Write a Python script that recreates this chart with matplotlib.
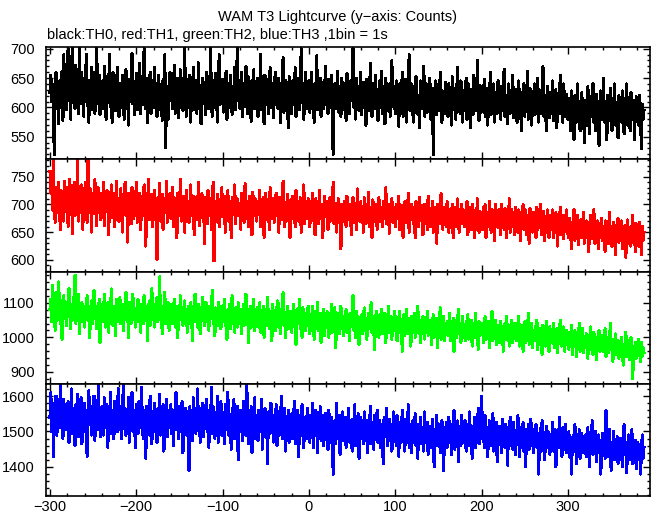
import numpy as np
import matplotlib
matplotlib.use('Agg')
import matplotlib.pyplot as plt
from matplotlib.ticker import MultipleLocator

plt.rcParams['font.family'] = ['Liberation Sans', 'DejaVu Sans']

# time axis, 1bin = 1s
t_start = -300

th0 = [
625, 655, 610, 640, 588, 520, 633, 660, 598, 615, 572, 645, 630, 600, 662, 578, 690, 618, 642, 596,
655, 700, 612, 634, 580, 668, 705, 622, 640, 598, 672, 615, 648, 590, 700, 628, 660, 606, 637, 585,
650, 612, 690, 604, 628, 575, 646, 618, 668, 596, 635, 660, 590, 624, 702, 640, 606, 655, 588, 630,
612, 645, 598, 670, 625, 580, 652, 608, 635, 690, 602, 628, 575, 660, 616, 642, 595, 630, 668, 610,
585, 640, 622, 600, 655, 612, 580, 638, 664, 598, 625, 570, 648, 615, 632, 692, 606, 640, 588, 620,
658, 596, 630, 612, 675, 590, 644, 620, 605, 700, 628, 598, 650, 574, 636, 612, 660, 590, 625, 645,
600, 668, 618, 640, 585, 622, 655, 596, 632, 610, 578, 648, 626, 690, 532, 635, 615, 580, 642, 660,
612, 645, 598, 628, 672, 590, 636, 615, 650, 582, 622, 664, 604, 640, 595, 630, 700, 612, 585, 648,
620, 600, 655, 575, 634, 612, 668, 596, 628, 645, 590, 618, 676, 604, 638, 572, 626, 650, 608, 632,
588, 660, 615, 640, 598, 622, 702, 610, 585, 646, 628, 600, 658, 618, 575, 636, 690, 605, 630, 612,
648, 592, 626, 610, 662, 580, 640, 618, 600, 655, 622, 588, 636, 612, 668, 596, 630, 703, 614, 645,
598, 625, 660, 585, 640, 615, 602, 670, 628, 590, 652, 610, 632, 576, 645, 620, 664, 598, 630, 608,
650, 585, 628, 612, 690, 596, 638, 620, 572, 655, 605, 630, 648, 590, 622, 668, 600, 640, 615, 582,
636, 660, 605, 625, 598, 650, 618, 574, 640, 610, 685, 592, 628, 646, 600, 620, 565, 652, 612, 635,
590, 645, 622, 605, 668, 585, 630, 612, 650, 596, 626, 700, 608, 640, 580, 618, 660, 598, 632, 614,
645, 592, 625, 660, 600, 618, 575, 640, 612, 688, 596, 630, 605, 650, 585, 622, 642, 598, 615, 670,
608, 632, 590, 648, 614, 600, 655, 580, 520, 626, 640, 598, 618, 662, 592, 635, 610, 585, 650, 620,
596, 640, 615, 578, 658, 605, 628, 590, 645, 612, 632, 700, 600, 622, 580, 650, 610, 636, 595, 625,
660, 588, 615, 642, 600, 625, 570, 648, 608, 632, 594, 675, 612, 585, 640, 620, 598, 655, 605, 630,
578, 620, 645, 600, 662, 590, 615, 635, 572, 650, 608, 626, 595, 640, 585, 618, 680, 602, 630, 610,
590, 645, 605, 625, 568, 640, 612, 598, 660, 585, 622, 600, 648, 575, 630, 610, 690, 595, 618, 640,
600, 575, 636, 612, 652, 590, 620, 605, 566, 645, 598, 628, 610, 670, 585, 615, 640, 592, 625, 604,
650, 580, 612, 632, 520, 620, 600, 645, 588, 615, 635, 595, 660, 608, 575, 628, 612, 590, 642, 600,
618, 585, 640, 605, 625, 570, 652, 610, 596, 632, 580, 615, 668, 600, 622, 590, 645, 608, 575, 628,
612, 595, 650, 580, 620, 640, 600, 565, 630, 612, 588, 655, 605, 625, 595, 680, 610, 578, 638, 615,
592, 628, 605, 648, 585, 615, 632, 570, 610, 598, 660, 588, 620, 605, 640, 575, 625, 612, 590, 645,
600, 618, 580, 636, 610, 595, 665, 585, 620, 604, 572, 640, 612, 590, 628, 600, 655, 582, 615, 598,
630, 575, 608, 645, 590, 612, 560, 625, 600, 640, 585, 618, 598, 662, 580, 610, 632, 595, 570, 622,
605, 640, 588, 615, 598, 650, 575, 612, 628, 590, 606, 670, 585, 620, 600, 560, 636, 598, 615, 582,
625, 600, 645, 578, 612, 595, 630, 565, 608, 620, 590, 655, 598, 612, 575, 640, 605, 585, 622, 600,
580, 615, 595, 560, 628, 590, 605, 545, 620, 598, 575, 640, 585, 610, 560, 600, 625, 580, 595, 540,
612, 590, 570, 635, 600, 555, 618, 585, 605, 640, 575, 598, 560, 622, 590, 610, 535, 600, 628, 580,
596, 650, 575, 610, 588, 545, 620, 600, 578, 632, 590, 560, 615, 595, 640, 570, 605, 585, 548, 620,
592, 610, 575, 628, 600, 555, 615, 588, 640, 570, 602, 590, 560, 625, 598, 580, 612, 545, 595, 618,
585, 600, 570, 620, 590, 530, 605, 580, 595]

th1 = [
760, 720, 745, 690, 780, 705, 668, 730, 712, 685, 740, 700, 655, 725, 695, 715, 670, 742, 705, 688,
730, 660, 712, 745, 690, 720, 648, 705, 740, 680, 715, 696, 782, 670, 725, 700, 685, 735, 655, 710,
692, 740, 705, 668, 782, 715, 690, 728, 650, 705, 720, 684, 745, 698, 662, 712, 730, 690, 705, 672,
720, 695, 740, 662, 708, 688, 725, 700, 645, 715, 690, 735, 676, 705, 720, 660, 698, 742, 685, 710,
670, 705, 728, 690, 650, 715, 695, 740, 680, 702, 632, 720, 688, 705, 665, 730, 698, 675, 712, 690,
740, 668, 705, 690, 720, 655, 698, 715, 680, 735, 700, 625, 710, 688, 745, 672, 702, 690, 718, 660,
695, 725, 680, 705, 600, 712, 690, 738, 670, 700, 718, 655, 692, 710, 685, 742, 668, 705, 690, 720,
675, 700, 730, 660, 712, 688, 705, 640, 720, 695, 680, 745, 670, 702, 690, 715, 650, 698, 725, 685,
705, 668, 690, 735, 680, 700, 715, 645, 695, 712, 672, 690, 740, 662, 705, 688, 720, 676, 700, 630,
712, 690, 665, 725, 700, 680, 710, 655, 695, 740, 598, 688, 705, 670, 718, 692, 660, 708, 685, 730,
678, 700, 715, 650, 695, 688, 725, 670, 705, 690, 640, 712, 682, 700, 735, 665, 695, 710, 680, 702,
690, 655, 720, 685, 700, 668, 738, 692, 675, 705, 660, 715, 688, 700, 645, 722, 680, 698, 710, 670,
705, 682, 690, 725, 660, 700, 678, 712, 640, 695, 720, 672, 688, 705, 655, 730, 690, 675, 710, 685,
668, 700, 720, 680, 695, 650, 712, 688, 705, 672, 742, 690, 660, 700, 685, 718, 670, 695, 640, 708,
688, 715, 675, 700, 660, 725, 690, 705, 670, 685, 712, 650, 698, 680, 735, 665, 700, 690, 675, 710,
685, 660, 705, 690, 720, 670, 695, 645, 710, 680, 700, 665, 725, 688, 675, 700, 640, 692, 715, 678,
690, 705, 655, 685, 712, 670, 698, 680, 740, 665, 690, 702, 650, 688, 710, 675, 695, 620, 700, 684,
670, 705, 688, 660, 715, 680, 695, 672, 700, 645, 690, 712, 668, 685, 700, 655, 728, 680, 692, 670,
705, 675, 690, 650, 712, 688, 665, 700, 680, 722, 660, 695, 678, 640, 708, 685, 670, 700, 690, 655,
688, 712, 670, 695, 680, 660, 705, 675, 690, 730, 665, 685, 700, 648, 690, 676, 710, 668, 695, 680,
660, 700, 682, 675, 715, 655, 690, 670, 698, 640, 685, 705, 668, 690, 675, 720, 650, 688, 672, 700,
680, 665, 695, 640, 705, 675, 690, 660, 712, 680, 670, 698, 645, 685, 700, 668, 690, 655, 715, 675,
690, 660, 680, 705, 650, 688, 670, 695, 630, 700, 675, 685, 665, 720, 680, 655, 695, 670, 688, 660,
705, 675, 650, 690, 668, 680, 700, 640, 685, 672, 695, 660, 710, 678, 650, 688, 670, 700, 665, 682,
660, 690, 675, 705, 645, 680, 668, 695, 655, 700, 672, 685, 640, 690, 665, 710, 675, 650, 688, 670,
680, 655, 695, 665, 700, 640, 685, 672, 660, 705, 675, 650, 690, 668, 680, 635, 700, 665, 685, 658,
690, 670, 645, 700, 662, 680, 655, 692, 670, 640, 685, 665, 710, 650, 678, 690, 660, 675, 645, 695,
665, 680, 650, 690, 670, 635, 685, 660, 700, 655, 675, 690, 645, 668, 680, 630, 692, 662, 675, 650,
685, 660, 670, 640, 695, 655, 680, 665, 700, 645, 672, 660, 688, 635, 675, 650, 690, 662, 640, 680,
655, 670, 690, 640, 668, 650, 685, 660, 625, 675, 655, 695, 645, 665, 680, 638, 670, 655, 690, 648,
660, 640, 675, 652, 620, 668, 645, 690, 635, 660, 650, 680, 628, 665, 645, 672, 640, 655, 685, 630,
650, 670, 640, 662, 615, 655, 680, 638, 660, 645, 690, 630, 658, 642, 670, 620, 652, 665, 640, 675,
635, 660, 648, 615, 670, 642, 655, 630, 685, 640, 660, 625, 652, 668, 638, 610, 662, 645, 675, 632,
655, 640, 670, 620, 650, 635, 662, 605, 645, 672, 638, 655, 625, 660, 642, 680, 630, 650, 615, 665,
640, 655, 625, 668, 645, 610, 660, 635, 650]

th2 = [
1080, 1110, 1045, 1150, 1060, 1095, 1020, 1130, 1075, 1050, 1160, 1085, 1040, 1105, 995, 1070, 1120, 1055, 1090, 1035,
1100, 1060, 1140, 1075, 1025, 1095, 1050, 1115, 1070, 1180, 1040, 1085, 1060, 1125, 1010, 1080, 1055, 1100, 1045, 1070,
1030, 1090, 1065, 1120, 1050, 1085, 1000, 1075, 1105, 1040, 1070, 1135, 1055, 1090, 1025, 1080, 1060, 1110, 985, 1075,
1095, 1045, 1070, 1125, 1030, 1080, 1060, 1100, 1015, 1085, 1050, 1140, 1065, 1035, 1090, 1075, 1005, 1110, 1060, 1045,
1080, 1115, 1040, 1070, 1095, 1020, 1085, 1060, 1130, 1050, 1075, 1000, 1100, 1065, 1040, 1090, 1125, 1055, 1070, 1030,
1085, 1060, 1110, 1045, 1075, 1015, 1095, 1065, 1040, 1120, 1070, 1050, 1090, 990, 1080, 1105, 1035, 1065, 1140, 1055,
1070, 1030, 1095, 1060, 1115, 1045, 1080, 1175, 1050, 1090, 1010, 1075, 1060, 1130, 1040, 1085, 1065, 1100, 1020, 1070,
1055, 1095, 1040, 1080, 1110, 1030, 1065, 1090, 1000, 1075, 1050, 1120, 1060, 1085, 1035, 1070, 1105, 1045, 1080, 1015,
1090, 1060, 1040, 1100, 1070, 990, 1080, 1055, 1125, 1045, 1075, 1030, 1095, 1060, 1010, 1085, 1050, 1115, 1065, 1035,
1075, 1100, 1045, 1065, 1020, 1090, 1055, 1080, 1135, 1040, 1070, 1005, 1085, 1060, 1035, 1100, 1050, 1075, 1025, 1090,
1045, 1070, 1110, 1035, 1060, 995, 1080, 1050, 1095, 1025, 1065, 1120, 1040, 1075, 1015, 1085, 1055, 1030, 1100, 1060,
1040, 1080, 1010, 1065, 1095, 1035, 1055, 1125, 1045, 1070, 985, 1060, 1090, 1030, 1075, 1050, 1110, 1020, 1065, 1045,
1085, 1030, 1060, 1100, 1015, 1070, 1045, 1090, 1000, 1055, 1080, 1035, 1115, 1050, 1025, 1075, 1060, 990, 1095, 1040,
1065, 1020, 1085, 1050, 1105, 1030, 1060, 1010, 1080, 1045, 1130, 1035, 1070, 1000, 1055, 1090, 1025, 1065, 1040, 1075,
1015, 1060, 1095, 1035, 1050, 980, 1080, 1040, 1065, 1110, 1025, 1055, 1000, 1085, 1045, 1070, 1020, 1060, 1035, 1090,
1040, 1010, 1065, 1030, 1090, 1050, 995, 1075, 1025, 1060, 1100, 1020, 1045, 1070, 985, 1055, 1035, 1080, 1005, 1060,
1030, 1075, 1045, 1000, 1065, 1040, 1095, 1015, 1050, 1025, 1085, 970, 1055, 1035, 1070, 1010, 1045, 1090, 1025, 1060,
1005, 1050, 1030, 1080, 1015, 1065, 1040, 990, 1070, 1035, 1055, 1120, 1020, 1045, 1000, 1075, 1030, 1060, 980, 1050,
1035, 1065, 1010, 1045, 1085, 1020, 1055, 995, 1040, 1070, 1025, 1050, 1100, 1015, 1060, 1030, 965, 1045, 1075, 1020,
1050, 1000, 1065, 1035, 1080, 1010, 1045, 1025, 1070, 985, 1055, 1030, 1090, 1015, 1040, 1060, 995, 1050, 1020, 1075,
1030, 1060, 990, 1045, 1015, 1075, 1025, 1050, 960, 1040, 1065, 1005, 1035, 1080, 1010, 1055, 1020, 1045, 975, 1060,
1020, 1040, 1070, 1000, 1035, 1015, 1090, 1025, 1050, 985, 1045, 1010, 1060, 1030, 995, 1055, 1020, 1075, 1005, 1040,
1015, 1050, 980, 1035, 1065, 1000, 1030, 1010, 1055, 970, 1040, 1025, 1085, 995, 1045, 1015, 1060, 990, 1035, 1020,
1045, 1005, 1030, 1070, 990, 1040, 1015, 1055, 960, 1025, 1050, 1000, 1035, 1080, 1010, 1040, 985, 1030, 1060, 1000,
1025, 990, 1045, 1015, 1065, 995, 1030, 1010, 1050, 975, 1020, 1040, 1000, 1070, 1015, 1035, 965, 1045, 1005, 1030,
1010, 1040, 985, 1025, 1060, 995, 1020, 1000, 1045, 970, 1030, 1010, 1075, 990, 1025, 1005, 1050, 980, 1035, 1000,
1020, 985, 1045, 1005, 1030, 960, 1015, 1040, 995, 1060, 1000, 1025, 975, 1035, 1010, 1050, 985, 1020, 1000, 1040,
990, 1025, 1005, 1060, 975, 1015, 995, 1035, 960, 1020, 1045, 985, 1010, 1000, 1070, 980, 1025, 995, 1040, 970,
1010, 990, 1030, 1000, 1050, 965, 1015, 985, 1025, 1005, 950, 1035, 995, 1020, 975, 1045, 1000, 1015, 960, 1030,
985, 1010, 995, 1040, 970, 1005, 990, 1025, 955, 1015, 1000, 1050, 975, 1010, 985, 1030, 960, 1000, 1020, 980,
995, 965, 1015, 980, 1035, 950, 1000, 975, 1020, 990, 945, 1010, 985, 1040, 960, 1000, 975, 1025, 955, 990,
970, 1010, 985, 940, 1005, 965, 1030, 975, 995, 950, 1015, 980, 1000, 935, 990, 965, 1020, 960, 985, 1005,
960, 990, 975, 1025, 945, 980, 1000, 955, 970, 1040, 965, 985, 930, 995, 960, 1010, 950, 975, 990, 940,
985, 955, 1000, 965, 920, 980, 960, 1015, 945, 975, 990, 935, 965, 1000, 950, 880, 970, 955, 985, 940,
975, 950, 995, 960, 930, 985, 945, 970, 955]

th3 = [
1540, 1610, 1500, 1580, 1430, 1555, 1525, 1600, 1490, 1570, 1545, 1510, 1635, 1520, 1565, 1480, 1590, 1535, 1505, 1560,
1525, 1585, 1470, 1550, 1515, 1620, 1495, 1565, 1540, 1460, 1575, 1520, 1605, 1485, 1550, 1530, 1595, 1465, 1545, 1510,
1580, 1500, 1560, 1430, 1540, 1615, 1520, 1570, 1490, 1550, 1525, 1600, 1475, 1560, 1535, 1505, 1630, 1515, 1545, 1485,
1570, 1530, 1490, 1595, 1545, 1510, 1575, 1455, 1550, 1520, 1610, 1495, 1560, 1535, 1480, 1585, 1525, 1555, 1500, 1620,
1540, 1505, 1570, 1480, 1550, 1635, 1515, 1565, 1490, 1545, 1525, 1595, 1470, 1555, 1530, 1610, 1500, 1560, 1520, 1455,
1575, 1535, 1495, 1585, 1545, 1510, 1625, 1525, 1480, 1560, 1540, 1425, 1570, 1515, 1550, 1490, 1600, 1530, 1465, 1555,
1520, 1580, 1500, 1545, 1470, 1565, 1530, 1605, 1490, 1550, 1515, 1575, 1445, 1540, 1520, 1590, 1485, 1560, 1510, 1535,
1575, 1495, 1540, 1460, 1560, 1525, 1610, 1505, 1550, 1480, 1570, 1530, 1500, 1585, 1440, 1545, 1520, 1565, 1490, 1555,
1530, 1390, 1570, 1510, 1545, 1475, 1595, 1520, 1555, 1495, 1540, 1620, 1505, 1565, 1470, 1535, 1515, 1580, 1485, 1550,
1525, 1590, 1500, 1560, 1455, 1540, 1515, 1625, 1495, 1570, 1530, 1480, 1550, 1510, 1600, 1470, 1545, 1520, 1585, 1490,
1555, 1520, 1465, 1575, 1535, 1505, 1610, 1490, 1545, 1515, 1450, 1565, 1525, 1590, 1480, 1540, 1510, 1570, 1420, 1535,
1500, 1560, 1530, 1475, 1585, 1515, 1545, 1490, 1630, 1520, 1465, 1555, 1505, 1570, 1440, 1535, 1510, 1595, 1480, 1545,
1515, 1475, 1560, 1525, 1500, 1590, 1450, 1540, 1510, 1565, 1485, 1530, 1410, 1555, 1520, 1495, 1580, 1505, 1545, 1470,
1535, 1500, 1575, 1460, 1525, 1555, 1490, 1515, 1600, 1480, 1540, 1505, 1565, 1445, 1520, 1495, 1560, 1470, 1530, 1510,
1550, 1480, 1520, 1585, 1465, 1535, 1500, 1560, 1430, 1515, 1545, 1490, 1575, 1505, 1455, 1540, 1520, 1480, 1565, 1500,
1515, 1470, 1545, 1500, 1580, 1455, 1525, 1490, 1560, 1510, 1440, 1535, 1495, 1570, 1475, 1520, 1545, 1460, 1505, 1550,
1485, 1525, 1450, 1560, 1500, 1470, 1540, 1515, 1380, 1495, 1530, 1465, 1580, 1505, 1480, 1545, 1435, 1520, 1490, 1555,
1475, 1510, 1540, 1455, 1525, 1495, 1565, 1470, 1515, 1500, 1445, 1535, 1490, 1575, 1460, 1520, 1505, 1550, 1425, 1510,
1540, 1480, 1520, 1465, 1555, 1500, 1475, 1530, 1440, 1515, 1490, 1570, 1465, 1525, 1500, 1450, 1545, 1485, 1515, 1560,
1470, 1505, 1530, 1455, 1520, 1495, 1410, 1540, 1485, 1510, 1565, 1460, 1500, 1535, 1475, 1520, 1445, 1490, 1555, 1480,
1515, 1460, 1545, 1490, 1430, 1525, 1500, 1470, 1560, 1485, 1510, 1445, 1535, 1480, 1500, 1575, 1455, 1520, 1490, 1440,
1530, 1475, 1505, 1550, 1460, 1495, 1425, 1520, 1485, 1540, 1465, 1510, 1490, 1445, 1555, 1480, 1500, 1525, 1435, 1495,
1470, 1515, 1455, 1535, 1490, 1400, 1505, 1475, 1545, 1460, 1500, 1520, 1440, 1485, 1530, 1465, 1390, 1510, 1480, 1525,
1455, 1495, 1540, 1470, 1505, 1435, 1520, 1485, 1560, 1450, 1500, 1475, 1530, 1415, 1490, 1515, 1460, 1545, 1480, 1505,
1470, 1530, 1445, 1495, 1520, 1460, 1555, 1480, 1505, 1425, 1515, 1475, 1540, 1455, 1500, 1485, 1565, 1465, 1510, 1490,
1600, 1480, 1520, 1455, 1545, 1470, 1505, 1430, 1495, 1530, 1460, 1510, 1480, 1550, 1445, 1500, 1475, 1525, 1415, 1490,
1465, 1515, 1480, 1440, 1535, 1470, 1500, 1455, 1520, 1485, 1405, 1495, 1460, 1540, 1475, 1505, 1450, 1525, 1480, 1435,
1500, 1465, 1545, 1475, 1430, 1510, 1455, 1490, 1525, 1445, 1480, 1400, 1505, 1470, 1520, 1450, 1490, 1535, 1460, 1485,
1440, 1505, 1470, 1520, 1455, 1490, 1380, 1475, 1510, 1445, 1530, 1465, 1495, 1420, 1480, 1515, 1455, 1500, 1470, 1435,
1490, 1460, 1525, 1445, 1480, 1505, 1400, 1470, 1495, 1455, 1540, 1465, 1485, 1430, 1510, 1450, 1475, 1520, 1440, 1485,
1455, 1500, 1430, 1475, 1380, 1465, 1490, 1445, 1520, 1460, 1410, 1480, 1450, 1505, 1425, 1470, 1495, 1440, 1485, 1455,
1490, 1430, 1470, 1510, 1445, 1400, 1480, 1460, 1530, 1435, 1475, 1450, 1500, 1415, 1465, 1490, 1440, 1475, 1380, 1460,
1495, 1440, 1470, 1425, 1560, 1455, 1485, 1430, 1505, 1445, 1390, 1470, 1450, 1500, 1420, 1465, 1440, 1485, 1410, 1455,
1430, 1480, 1445, 1400, 1470, 1520, 1435, 1460, 1385, 1450, 1490, 1420, 1465, 1440, 1505, 1410, 1455, 1430, 1475, 1395,
1445, 1470, 1420, 1460, 1380, 1435, 1490, 1425, 1455]

series = [th0, th1, th2, th3]
colors = ['black', 'red', '#00ff00', 'blue']
ylims = [(512, 703), (578, 782), (865, 1189), (1318, 1634)]
ymajor = [50, 50, 100, 100]
yminor = [10, 10, 20, 20]

fig = plt.figure(figsize=(6.52, 5.15), dpi=100)

W, H = 652., 515.
left, right = 46 / W, 650 / W
edges = [47, 159, 272, 384, 496]

axes = []
for i in range(4):
    y = np.array(series[i])
    t = t_start + np.arange(len(y))
    bot = 1 - edges[i + 1] / H
    h = (edges[i + 1] - edges[i]) / H
    ax = fig.add_axes([left, bot, right - left, h])
    ax.plot(t, y, color=colors[i], lw=1.5, antialiased=False)
    ax.set_xlim(-304.6, 395)
    ax.set_ylim(*ylims[i])
    ax.xaxis.set_major_locator(MultipleLocator(100))
    ax.xaxis.set_minor_locator(MultipleLocator(20))
    ax.yaxis.set_major_locator(MultipleLocator(ymajor[i]))
    ax.yaxis.set_minor_locator(MultipleLocator(yminor[i]))
    ax.tick_params(which='both', direction='in', top=True, right=True, width=1.0,
                   labelsize=10.5)
    ax.tick_params(which='major', length=5)
    ax.tick_params(which='minor', length=2.5)
    ax.tick_params(axis='y', pad=8)
    ax.tick_params(axis='x', pad=3)
    for s in ax.spines.values():
        s.set_linewidth(1.2)
    if i < 3:
        ax.tick_params(labelbottom=False)
    axes.append(ax)

fig.text(337 / W, 1 - 17 / H, 'WAM T3 Lightcurve (y\u2212axis: Counts)', ha='center', va='center', fontsize=10.5)
fig.text(47 / W, 1 - 35 / H, 'black:TH0, red:TH1, green:TH2, blue:TH3 ,1bin = 1s', ha='left', va='center', fontsize=10.5)

fig.savefig('out.png', dpi=100)
